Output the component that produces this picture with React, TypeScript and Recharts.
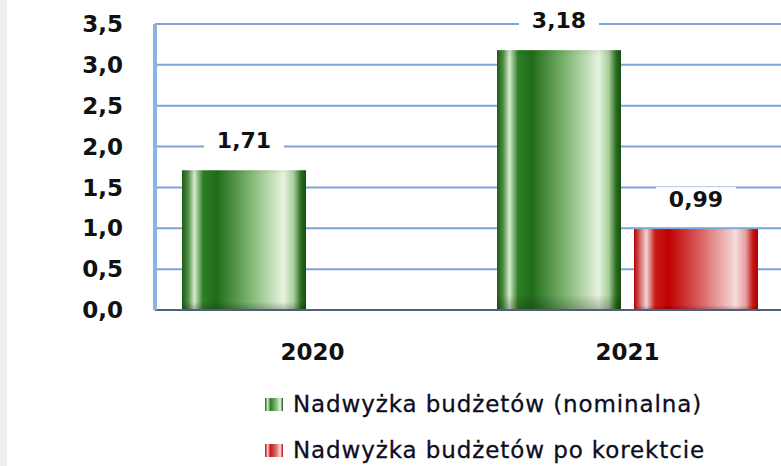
import React from 'react';
import { BarChart, Bar, XAxis, YAxis, CartesianGrid, LabelList, ReferenceLine } from 'recharts';

const categories = ['2020', '2021'];
const nominal: (number | null)[] = [1.71, 3.18];
const corrected: (number | null)[] = [null, 0.99];
const yTicks = [0, 0.5, 1, 1.5, 2, 2.5, 3, 3.5];
const seriesNames = ['Nadwyżka budżetów (nominalna)', 'Nadwyżka budżetów po korektcie'];
const dividers = [1, 2];

const data = categories.map((c, i) => ({ year: c, nominal: nominal[i], corrected: corrected[i] }));

const fmtTick = (v: number) => v.toFixed(1).replace('.', ',');
const fmtVal = (v: number) => v.toFixed(2).replace('.', ',');

const FONT = '"DejaVu Sans", Verdana, sans-serif';

const renderLabel = (props: any) => {
  const { x, y, width, value } = props;
  if (value == null) return null;
  const cx = Number(x) + Number(width) / 2;
  const top = Number(y);
  return (
    <g>
      <rect x={cx - 40} y={top - 42} width={80} height={27} fill="#ffffff" />
      <text x={cx} y={top - 22} textAnchor="middle" fontFamily={FONT} fontWeight="bold" fontSize={22} fill="#111">
        {fmtVal(Number(value))}
      </text>
    </g>
  );
};

const GradBar = (fillId: string) => (props: any) => {
  const { x, y, width, height } = props;
  if (!height || height <= 0) return null;
  return (
    <g>
      <rect x={x} y={y} width={width} height={height} fill={`url(#${fillId})`} />
      <rect x={x} y={y} width={width} height={height} fill="url(#shadeV)" />
    </g>
  );
};

export default function App() {
  return (
    <div style={{ position: 'absolute', left: 0, top: 0, width: 781, height: 466, overflow: 'hidden', background: '#fff' }}>
      <div style={{ position: 'absolute', left: 0, top: 0, width: 7, height: 466, background: '#efefef' }} />
      <BarChart
        width={800}
        height={466}
        data={data}
        margin={{ top: 24, right: 15, bottom: 126, left: 0 }}
        barCategoryGap={27}
        barGap={13}
      >
        <defs>
          <linearGradient id="gGreen" x1="0" y1="0" x2="1" y2="0">
            <stop offset="0%" stopColor="#1d5a17" />
            <stop offset="5%" stopColor="#4f8f45" />
            <stop offset="10%" stopColor="#d6ebcf" />
            <stop offset="17%" stopColor="#2f7d26" />
            <stop offset="28%" stopColor="#1f6c17" />
            <stop offset="55%" stopColor="#7fb572" />
            <stop offset="82%" stopColor="#e6f3de" />
            <stop offset="90%" stopColor="#a9cf9d" />
            <stop offset="96%" stopColor="#2b6d22" />
            <stop offset="100%" stopColor="#174f12" />
          </linearGradient>
          <linearGradient id="gRed" x1="0" y1="0" x2="1" y2="0">
            <stop offset="0%" stopColor="#b80000" />
            <stop offset="5%" stopColor="#d86a6a" />
            <stop offset="10%" stopColor="#f3d3d3" />
            <stop offset="17%" stopColor="#c71a1a" />
            <stop offset="28%" stopColor="#c00000" />
            <stop offset="55%" stopColor="#db6666" />
            <stop offset="82%" stopColor="#f6dcdc" />
            <stop offset="90%" stopColor="#e5a0a0" />
            <stop offset="96%" stopColor="#c41414" />
            <stop offset="100%" stopColor="#b00000" />
          </linearGradient>
          <linearGradient id="shadeV" x1="0" y1="0" x2="0" y2="1">
            <stop offset="0%" stopColor="#000" stopOpacity={0.05} />
            <stop offset="3%" stopColor="#000" stopOpacity={0} />
            <stop offset="94%" stopColor="#000" stopOpacity={0} />
            <stop offset="100%" stopColor="#000" stopOpacity={0.25} />
          </linearGradient>
        </defs>
        <CartesianGrid vertical={false} stroke="#7ea3d6" strokeWidth={2} />
        <XAxis
          dataKey="year"
          height={30}
          axisLine={{ stroke: '#4d5f7c', strokeWidth: 2 }}
          tickLine={false}
          tickSize={0}
          tickMargin={34}
          tick={{ fontFamily: FONT, fontWeight: 'bold', fontSize: 23, fill: '#111' }}
        />
        <XAxis xAxisId="div" type="number" domain={[0, 2]} hide allowDataOverflow />
        <YAxis
          width={155}
          domain={[0, 3.5]}
          ticks={yTicks}
          interval={0}
          tickFormatter={fmtTick}
          axisLine={{ stroke: '#8db3e2', strokeWidth: 4 }}
          tickLine={false}
          tickSize={0}
          tickMargin={32}
          tick={{ fontFamily: FONT, fontWeight: 'bold', fontSize: 23, fill: '#111' }}
        />
        {dividers.map((d) => (
          <ReferenceLine key={d} xAxisId="div" x={d} stroke="#8db3e2" strokeWidth={3} />
        ))}
        <Bar dataKey="nominal" name={seriesNames[0]} isAnimationActive={false} shape={GradBar('gGreen')}>
          <LabelList dataKey="nominal" content={renderLabel} />
        </Bar>
        <Bar dataKey="corrected" name={seriesNames[1]} isAnimationActive={false} shape={GradBar('gRed')}>
          <LabelList dataKey="corrected" content={renderLabel} />
        </Bar>
      </BarChart>
      {seriesNames.map((name, i) => (
        <div
          key={name}
          style={{
            position: 'absolute',
            left: 265,
            top: i === 0 ? 391 : 437,
            display: 'flex',
            alignItems: 'center',
            fontFamily: FONT,
            fontSize: 23,
            letterSpacing: 0.9,
            color: '#0d0d22',
            WebkitTextStroke: '0.3px #0d0d22',
            whiteSpace: 'nowrap',
          }}
        >
          <span
            style={{
              display: 'inline-block',
              width: 18,
              height: 13,
              marginRight: 10,
              background:
                i === 0
                  ? 'linear-gradient(90deg,#1d5a17,#d6ebcf 15%,#2f7d26 30%,#7fb572 60%,#e6f3de 85%,#174f12)'
                  : 'linear-gradient(90deg,#b80000,#f3d3d3 15%,#c71a1a 30%,#db6666 60%,#f6dcdc 85%,#b00000)',
            }}
          />
          <span>{name}</span>
        </div>
      ))}
    </div>
  );
}
